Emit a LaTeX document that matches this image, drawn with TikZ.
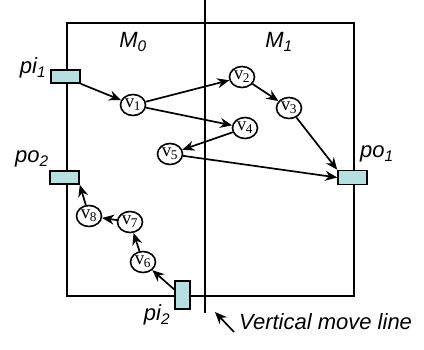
\documentclass[tikz,border=0pt]{standalone}
\usepackage{fontspec}
\setmainfont{Liberation Serif}
\newfontfamily\arialf{Liberation Sans}
\usetikzlibrary{shapes.geometric,arrows.meta}
\definecolor{portfill}{RGB}{183,222,224}
\begin{document}
\begin{tikzpicture}[x=1pt,y=-1pt,
  vtx/.style={ellipse,draw,line width=1.6pt,fill=white,minimum width=25pt,minimum height=21pt,inner sep=0pt,font=\fontsize{19}{19}\selectfont},
  port/.style={draw,line width=1.6pt,fill=portfill,inner sep=0pt},
  lab/.style={font=\arialf\itshape\fontsize{22}{22}\selectfont,inner sep=0pt},
  edge/.style={line width=1.7pt,-{Stealth[length=12pt,width=10pt]}},
  frame/.style={line width=1.8pt}]
\useasboundingbox (0,0) rectangle (424,350);
% frame
\coordinate (tl) at (67,23);
\coordinate (br) at (354,296);
\draw[frame] (tl) rectangle (br);
\coordinate (vt) at (205,0);
\coordinate (vb) at (205,313);
\draw[frame] (vt) -- (vb);
% ports
\node[port,minimum width=29pt,minimum height=13pt] (pi1) at (65.5,76.5) {};
\node[port,minimum width=29pt,minimum height=13pt] (po2) at (64.5,177.5) {};
\node[port,minimum width=29pt,minimum height=14pt] (po1) at (352.5,177.5) {};
\node[port,minimum width=15pt,minimum height=28pt] (pi2) at (182.5,295) {};
% vertices
\node[vtx] (v1) at (133,105) {v\kern-0.5pt\textsubscript{1}};
\node[vtx] (v2) at (242,77) {v\kern-0.5pt\textsubscript{2}};
\node[vtx] (v3) at (289,108) {v\kern-0.5pt\textsubscript{3}};
\node[vtx] (v4) at (245,128) {v\kern-0.5pt\textsubscript{4}};
\node[vtx] (v5) at (170,154) {v\kern-0.5pt\textsubscript{5}};
\node[vtx] (v6) at (143,262) {v\kern-0.5pt\textsubscript{6}};
\node[vtx] (v7) at (130,222) {v\kern-0.5pt\textsubscript{7}};
\node[vtx] (v8) at (89,216) {v\kern-0.5pt\textsubscript{8}};
% labels
\node[lab] (m0) at (133,42) {M\textsubscript{0}};
\node[lab] (m1) at (279,42) {M\textsubscript{1}};
\node[lab] (lpi1) at (33,68) {pi\textsubscript{1}};
\node[lab] (lpo2) at (32,159) {po\textsubscript{2}};
\node[lab] (lpo1) at (377,154) {po\textsubscript{1}};
\node[lab] (lpi2) at (157,315) {pi\textsubscript{2}};
\node[lab,anchor=west] (vml) at (239,322) {Vertical move line};
\coordinate (vmtip) at (215,312);
\coordinate (vmstart) at (234,332);
% edges
\draw[edge] (pi1.south east) -- (v1);
\draw[edge] (v1) -- (v2);
\draw[edge] (v1) -- (v4);
\draw[edge] (v2) -- (v3);
\draw[edge] (v3) -- (po1.north west);
\draw[edge] (v4) -- (v5);
\draw[edge] (v5) -- (po1.west);
\draw[edge] (pi2.146) -- (v6);
\draw[edge] (v6) -- (v7);
\draw[edge] (v7) -- (v8);
\draw[edge] (v8) -- (po2.south east);
\draw[edge] (vmstart) -- (vmtip);
\end{tikzpicture}
\end{document}
